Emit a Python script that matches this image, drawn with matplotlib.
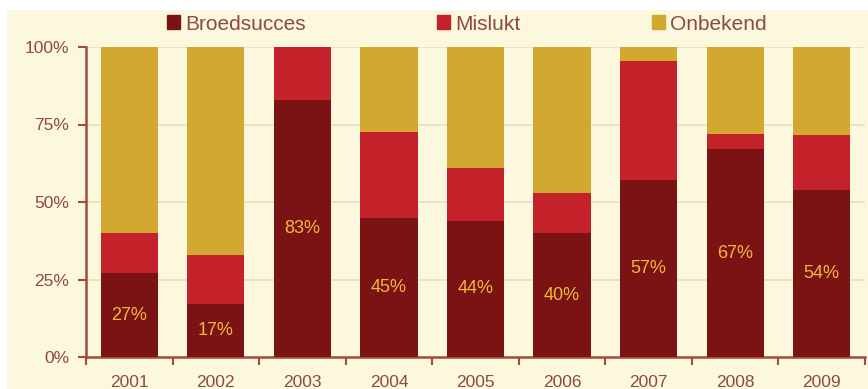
import matplotlib
matplotlib.use("Agg")
import matplotlib.pyplot as plt
from matplotlib.patches import Patch, Rectangle
import numpy as np

plt.rcParams['font.family'] = ['Liberation Sans', 'DejaVu Sans']

years = ['2001', '2002', '2003', '2004', '2005', '2006', '2007', '2008', '2009']
broedsucces = [27, 17, 83, 45, 44, 40, 57, 67, 54]
mislukt = [13, 16, 17, 27.5, 17, 13, 38.5, 5, 17.5]
onbekend = [100 - b - m for b, m in zip(broedsucces, mislukt)]
labels = ['27%', '17%', '83%', '45%', '44%', '40%', '57%', '67%', '54%']
yticks = [0, 25, 50, 75, 100]
yticklabels = ['0%', '25%', '50%', '75%', '100%']

c_dark = '#7B1315'
c_red = '#C4222A'
c_gold = '#D3A830'
c_bg = '#FCF8DD'
c_text = '#8E4A3E'
c_axis = '#A24A3C'
c_label = '#F0B83E'
c_grid = '#E6DFC4'

W, H = 868, 389
fig = plt.figure(figsize=(W / 100, H / 100), dpi=100)
fig.patch.set_facecolor('white')
fig.patches.append(Rectangle((7 / W, 0), 1 - 7 / W, (H - 10) / H,
                             transform=fig.transFigure, facecolor=c_bg,
                             edgecolor='none', zorder=-10))

ax = fig.add_axes([86 / W, (H - 357) / H, (865 - 86) / W, (357 - 47) / H])
ax.set_facecolor('none')

x = np.arange(len(years))
bw = 0.66
ax.bar(x, broedsucces, bw, color=c_dark, zorder=3)
ax.bar(x, mislukt, bw, bottom=broedsucces, color=c_red, zorder=3)
bot2 = [b + m for b, m in zip(broedsucces, mislukt)]
ax.bar(x, onbekend, bw, bottom=bot2, color=c_gold, zorder=3)

for xi, b, lab in zip(x, broedsucces, labels):
    ax.text(xi, b / 2, lab, ha='center', va='center', color=c_label,
            fontsize=13, zorder=4)

ax.set_xlim(-0.5, len(years) - 0.5)
ax.set_ylim(0, 100)
ax.set_yticks(yticks)
ax.set_yticklabels(yticklabels)
for y in yticks[1:]:
    ax.axhline(y, color=c_grid, lw=1.2, zorder=1)

ax.set_xticks(x)
ax.set_xticklabels(years)
ax.set_xticks(np.arange(-0.5, len(years)), minor=True)
ax.tick_params(axis='x', which='major', length=0, pad=13, labelsize=12.5,
               labelcolor=c_text)
ax.tick_params(axis='x', which='minor', length=6, width=1.5, color=c_axis,
               direction='out')
ax.tick_params(axis='y', length=6, width=1.5, color=c_axis, labelsize=12.5,
               labelcolor=c_text, pad=6)

for s in ['top', 'right']:
    ax.spines[s].set_visible(False)
for s in ['left', 'bottom']:
    ax.spines[s].set_color(c_axis)
    ax.spines[s].set_linewidth(1.8)

handles = [Patch(color=c_dark, label='Broedsucces'),
           Patch(color=c_red, label='Mislukt'),
           Patch(color=c_gold, label='Onbekend')]
fig.legend(handles=handles, loc='center', bbox_to_anchor=(467 / W, (H - 24) / H),
           ncol=3, frameon=False, fontsize=15, handlelength=0.62,
           handleheight=0.62, handletextpad=0.25, columnspacing=6.3,
           labelcolor=c_text)

fig.savefig('out.png', dpi=100, facecolor=fig.get_facecolor())
